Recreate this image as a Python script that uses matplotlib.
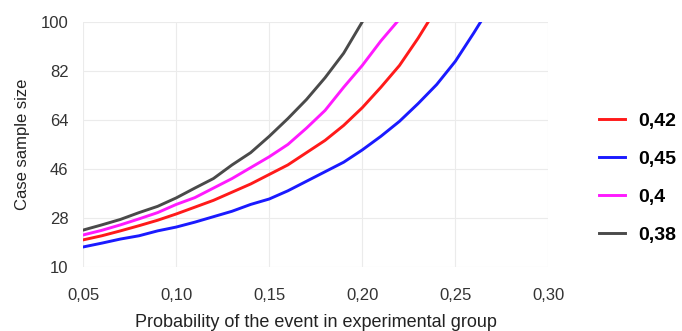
import matplotlib.pyplot as plt
import numpy as np

plt.rcParams['font.family'] = ['Liberation Sans', 'DejaVu Sans']

# probabilities in experimental group
p_exp = np.round(np.arange(0.05, 0.275, 0.01), 2)

# sample size curves
n_042 = [20.0, 21.5, 23.3, 25.2, 27.2, 29.5, 32.0, 34.5, 37.5, 40.5, 44.0, 47.5,
         52.0, 56.5, 62.0, 68.5, 76.0, 84.0, 94.0, 105.0]
n_045 = [17.4, 18.8, 20.3, 21.5, 23.3, 24.7, 26.5, 28.5, 30.5, 33.0, 35.0, 38.0,
         41.5, 45.0, 48.5, 53.0, 58.0, 63.5, 70.0, 77.0, 85.5, 96.0, 107.0]
n_040 = [21.8, 23.5, 25.5, 27.7, 30.0, 33.0, 35.5, 39.0, 42.5, 46.5, 50.5, 55.0,
         61.0, 67.5, 76.0, 84.0, 93.0, 101.0]
n_038 = [23.6, 25.5, 27.5, 30.0, 32.3, 35.4, 39.0, 42.5, 47.5, 52.0, 58.0, 64.5,
         71.5, 79.5, 88.5, 100.0]

series_labels = ['0,42', '0,45', '0,4', '0,38']
series_colors = ['#ff1a1a', '#1a1aff', '#ff1aff', '#4a4a4a']

x_ticks = [0.05, 0.10, 0.15, 0.20, 0.25, 0.30]
x_ticklabels = ['0,05', '0,10', '0,15', '0,20', '0,25', '0,30']
y_ticks = [10, 28, 46, 64, 82, 100]

fig = plt.figure(figsize=(6.82, 3.31), dpi=100)
ax = fig.add_axes([0.122, 0.193, 0.682, 0.741])

for vals, lab, col in zip([n_042, n_045, n_040, n_038], series_labels, series_colors):
    ax.plot(p_exp[:len(vals)], vals, color=col, linewidth=2.1, label=lab)

ax.set_xlim(0.05, 0.30)
ax.set_ylim(10, 100)
ax.set_xticks(x_ticks)
ax.set_xticklabels(x_ticklabels)
ax.set_yticks(y_ticks)
ax.grid(color='#ebebeb', linewidth=0.8)
ax.set_axisbelow(True)
for s in ax.spines.values():
    s.set_visible(False)
ax.tick_params(axis='both', length=0, labelsize=12, colors='#333333')
ax.tick_params(axis='x', pad=15)
ax.tick_params(axis='y', pad=10.5)

ax.set_xlabel('Probability of the event in experimental group', fontsize=13, color='#222222', labelpad=8)
ax.set_ylabel('Case sample size', fontsize=12, color='#222222', labelpad=8)

leg = fig.legend(loc='center left', bbox_to_anchor=(0.852, 0.462), frameon=False,
                 prop={'weight': 'bold', 'size': 14}, handlelength=1.35,
                 labelspacing=1.05, handletextpad=0.67)

fig.savefig('out.png', dpi=100)
